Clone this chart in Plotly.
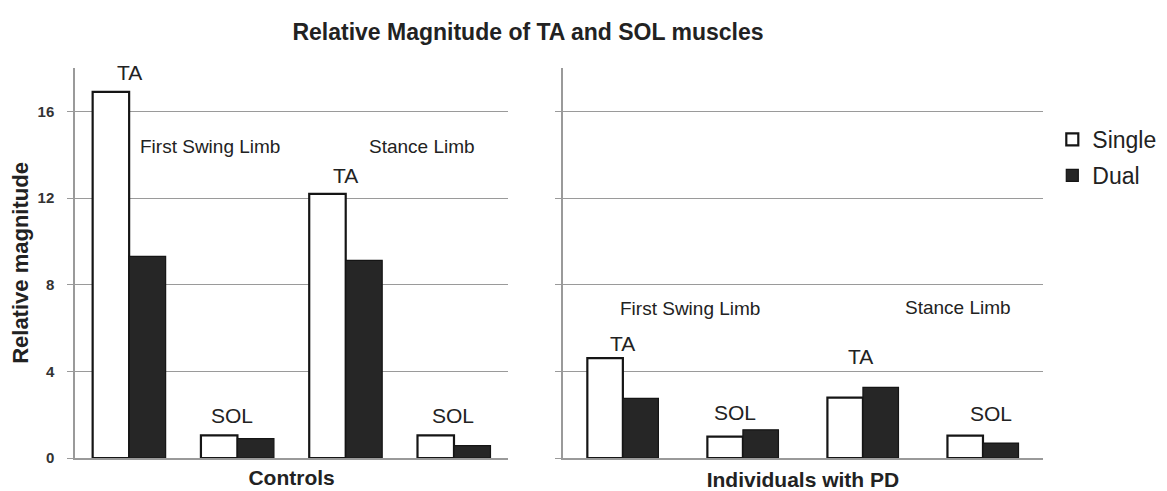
import plotly.graph_objects as go

# ---- data ----
categories = ["First Swing TA", "First Swing SOL", "Stance TA", "Stance SOL"]
controls_single = [16.9, 1.04, 12.19, 1.04]
controls_dual = [9.31, 0.89, 9.12, 0.57]
pd_single = [4.61, 0.99, 2.79, 1.03]
pd_dual = [2.75, 1.30, 3.26, 0.69]
y_ticks = [0, 4, 8, 12, 16]
series_names = ["Single", "Dual"]
panel_titles = ["Controls", "Individuals with PD"]

# labels placed inside each panel: (text, category position, value)
controls_labels = [("TA", 0.0, 17.8), ("First Swing Limb", 0.75, 14.4), ("SOL", 0.95, 1.95),
                   ("Stance Limb", 2.7, 14.4), ("TA", 2.0, 13.05), ("SOL", 2.99, 1.95)]
pd_labels = [("First Swing Limb", 0.56, 6.9), ("TA", 0.0, 5.3), ("SOL", 0.93, 2.1),
             ("Stance Limb", 2.79, 6.95), ("TA", 1.98, 4.7), ("SOL", 3.07, 2.05)]

FONT = "Liberation Sans, Arial, sans-serif"
GRID = "#9a9a9a"
xs = list(range(len(categories)))

fig = go.Figure()

def add_panel(single, dual, xa, ya, width, showlegend):
    fig.add_trace(go.Bar(x=xs, y=single, name=series_names[0], xaxis=xa, yaxis=ya,
                         width=width, offset=-width,
                         marker=dict(color="white", line=dict(color="#151515", width=2.2)),
                         legendgroup="s", showlegend=showlegend))
    fig.add_trace(go.Bar(x=xs, y=dual, name=series_names[1], xaxis=xa, yaxis=ya,
                         width=width, offset=0,
                         marker=dict(color="#262626", line=dict(color="#151515", width=1.2)),
                         legendgroup="d", showlegend=showlegend))

add_panel(controls_single, controls_dual, "x", "y", 0.337, True)
add_panel(pd_single, pd_dual, "x2", "y2", 0.296, False)

def lab_font(txt):
    return dict(family=FONT, size=21 if txt in ("TA", "SOL") else 19, color="#222")

ann = []
for txt, x, y in controls_labels:
    ann.append(dict(text=txt, x=x, y=y, xref="x", yref="y", showarrow=False, font=lab_font(txt)))
for txt, x, y in pd_labels:
    ann.append(dict(text=txt, x=x, y=y, xref="x2", yref="y2", showarrow=False, font=lab_font(txt)))

# The page body offsets the figure by 8px; positions below are in reference pixels.
OFF = 8
W, H = 1167 - OFF, 491 - OFF
L, R, T, B = 75 - OFF, 1042.7 - OFF, 68 - OFF, 458.3 - OFF
PW, PH = R - L, B - T
def px(v):
    return (v - OFF - L) / PW
def py(v):
    return (B - (v - OFF)) / PH

xcommon = dict(range=[-0.5, 3.5], showticklabels=False, ticks="", showgrid=False,
               showline=True, linecolor=GRID, linewidth=1.5, zeroline=False,
               automargin=False, fixedrange=True)
ycommon = dict(range=[0, 18], tickvals=y_ticks, showgrid=True, gridcolor=GRID, gridwidth=1.2,
               showline=True, linecolor=GRID, linewidth=1.5, ticks="outside", ticklen=6,
               tickcolor=GRID, zeroline=False, automargin=False, domain=[0, 1])

fig.update_layout(
    width=W, height=H,
    margin=dict(l=L, r=W - R, t=T, b=H - B, autoexpand=False),
    paper_bgcolor="white", plot_bgcolor="white",
    barmode="overlay",
    title=dict(text="<b>Relative Magnitude of TA and SOL muscles</b>",
               x=(528 - OFF) / W, xanchor="center", xref="container",
               y=1 - (32 - OFF) / H, yanchor="middle", yref="container",
               font=dict(family=FONT, size=23, color="#222")),
    xaxis=dict(domain=[0, px(508)], anchor="y",
               title=dict(text="<b>" + panel_titles[0] + "</b>", standoff=12,
                          font=dict(family=FONT, size=21, color="#222")), **xcommon),
    xaxis2=dict(domain=[px(562.7), 1], anchor="y2",
                title=dict(text="<b>" + panel_titles[1] + "</b>", standoff=14,
                           font=dict(family=FONT, size=21, color="#222")), **xcommon),
    yaxis=dict(anchor="x", showticklabels=True, ticklabelstandoff=10,
               tickfont=dict(family=FONT, size=15, color="#333", weight="bold"),
               title=dict(text="<b>Relative magnitude</b>", standoff=6,
                          font=dict(family=FONT, size=22, color="#222")), **ycommon),
    yaxis2=dict(anchor="x2", showticklabels=False, matches="y", **ycommon),
    legend=dict(x=px(1052), xanchor="left", y=py(118), yanchor="top",
                font=dict(family=FONT, size=23, color="#222"),
                tracegroupgap=3, traceorder="grouped", itemwidth=30,
                bgcolor="rgba(0,0,0,0)"),
    annotations=ann,
    font=dict(family=FONT),
)

fig.write_html("out.html")
